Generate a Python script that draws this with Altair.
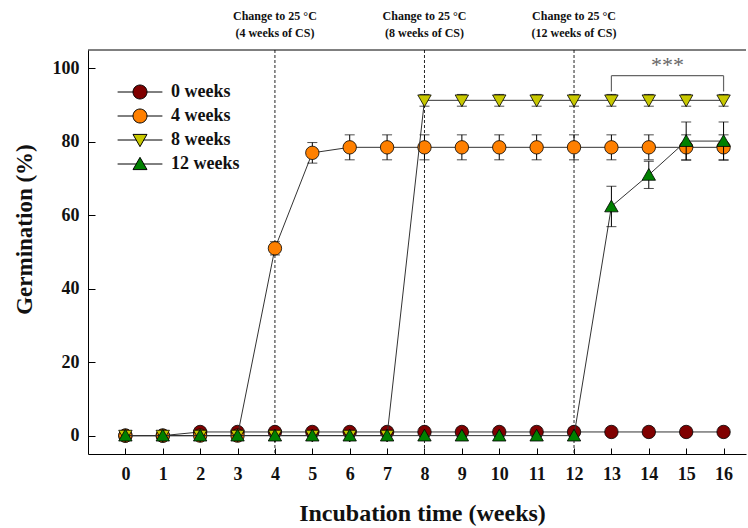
import altair as alt
import pandas as pd

# ---------------- data ----------------
weeks = list(range(17))
series_names = ["0 weeks", "4 weeks", "8 weeks", "12 weeks"]
series_colors = ["#800000", "#FF8000", "#C8C800", "#008000"]

germ_0 = [0, 0] + [1] * 15
err_0 = [0] * 17
germ_4 = [0, 0, 0, 0, 51, 77] + [78.5] * 11
err_4 = [0, 0, 0, 0, 1.8, 2.8] + [3.4] * 11
germ_8 = [0] * 8 + [91.3] * 9
err_8 = [0] * 8 + [1.6] * 9
germ_12 = [0] * 13 + [62.4, 71, 80.2, 80.2]
err_12 = [0] * 13 + [5.5, 3.7, 5.2, 5.2]

y_ticks = [0, 20, 40, 60, 80, 100]

change_weeks = [4, 8, 12]
change_line1 = ["Change to 25 \u00b0C", "Change to 25 \u00b0C", "Change to 25 \u00b0C"]
change_line2 = ["(4 weeks of CS)", "(8 weeks of CS)", "(12 weeks of CS)"]

bracket_x = [13, 16]
bracket_top = 98
bracket_bottom = 93.7
stars_x = [14.5]
stars_y = [100.8]
stars_text = ["***"]

# ---------------- styling ----------------
FONT = "Liberation Serif"
TXT = "#111111"
W, H = 658, 404

TRI_DOWN = "M-1,-0.8L1,-0.8L0,0.95Z"
TRI_UP = "M-1,0.8L1,0.8L0,-0.95Z"
point_shapes = ["circle", "circle", TRI_DOWN, TRI_UP]

LEG_CIRCLE = "M-3.2,0H-1M1,0H3.2M-1,0A1,1 0 1,0 1,0A1,1 0 1,0 -1,0Z"
LEG_DOWN = "M-3.2,0H-0.55M0.55,0H3.2M-1,-0.8L1,-0.8L0,0.95Z"
LEG_UP = "M-3.2,0H-0.55M0.55,0H3.2M-1,0.8L1,0.8L0,-0.95Z"
legend_shapes = [LEG_CIRCLE, LEG_CIRCLE, LEG_DOWN, LEG_UP]
legend_strokes = ["black", "black", "black", "black"]

all_vals = [germ_0, germ_4, germ_8, germ_12]
all_errs = [err_0, err_4, err_8, err_12]
rows = []
for name, vals, errs in zip(series_names, all_vals, all_errs):
    for w, v, e in zip(weeks, vals, errs):
        rows.append({"week": w, "series": name, "value": v, "err": e})
df = pd.DataFrame(rows)

xs = alt.Scale(domain=[-1, 16.6], nice=False, zero=False)
ys = alt.Scale(domain=[-5, 105], nice=False, zero=False)


def X(axis=None):
    return alt.X("week:Q", scale=xs, axis=axis)


def Y(field="value", axis=None):
    return alt.Y(f"{field}:Q", scale=ys, axis=axis)


x_axis_bottom = alt.Axis(
    orient="bottom", values=weeks, ticks=False, domain=True, domainColor="black",
    domainWidth=1, grid=False, labelFont=FONT, labelFontWeight="bold",
    labelFontSize=18, labelColor=TXT, labelPadding=11, labelFlush=False,
    title="Incubation time (weeks)", titleFont=FONT, titleFontSize=24,
    titleFontWeight="bold", titleColor=TXT, titlePadding=18, titleX=334,
)
x_axis_top = alt.Axis(
    orient="top", offset=-H, values=weeks, ticks=True, tickSize=6,
    tickColor="black", tickWidth=1, labels=False, domain=False, grid=False,
    title=None,
)
y_axis_left = alt.Axis(
    orient="left", values=y_ticks, ticks=False, domain=True, domainColor="black",
    domainWidth=1, grid=False, labelFont=FONT, labelFontWeight="bold",
    labelFontSize=18, labelColor=TXT, labelPadding=9, labelFlush=False,
    title="Germination (%)", titleFont=FONT, titleFontSize=23,
    titleFontWeight="bold", titleColor=TXT, titleX=-52, titleY=179,
)
y_axis_right = alt.Axis(
    orient="right", offset=-W, values=y_ticks, ticks=True, tickSize=7,
    tickColor="black", tickWidth=1, labels=False, domain=False, grid=False,
    title=None,
)

base = alt.Chart(df)
layers = []

# axis carrier layers (invisible)
layers.append(
    base.mark_point(opacity=0, size=1).encode(x=X(x_axis_bottom), y=Y(axis=y_axis_left))
)
layers.append(
    base.mark_point(opacity=0, size=1).encode(x=X(x_axis_top), y=Y(axis=y_axis_right))
)

# vertical dashed lines
layers.append(
    alt.Chart(pd.DataFrame({"week": change_weeks}))
    .mark_rule(color="#222222", strokeWidth=1, strokeDash=[3, 2])
    .encode(x=X())
)

for i, name in enumerate(series_names):
    sub = base.transform_filter(alt.datum.series == name)
    layers.append(
        sub.mark_line(color="#333333", strokeWidth=1).encode(x=X(), y=Y())
    )
    errs = sub.transform_filter("datum.err > 0").transform_calculate(
        lo="datum.value - datum.err", hi="datum.value + datum.err"
    )
    layers.append(
        errs.mark_rule(color="black", strokeWidth=1).encode(
            x=X(), y=Y("lo"), y2=alt.Y2("hi:Q")
        )
    )
    layers.append(
        errs.mark_tick(orient="horizontal", size=10, thickness=1, color="black").encode(
            x=X(), y=Y("lo")
        )
    )
    layers.append(
        errs.mark_tick(orient="horizontal", size=10, thickness=1, color="black").encode(
            x=X(), y=Y("hi")
        )
    )
    layers.append(
        sub.mark_point(
            filled=True, shape=point_shapes[i], size=180, fill=series_colors[i],
            stroke="black", strokeWidth=0.8, opacity=1,
        ).encode(x=X(), y=Y())
    )

# annotations above plot
ann = pd.DataFrame({"week": change_weeks, "l1": change_line1, "l2": change_line2})
layers.append(
    alt.Chart(ann).mark_text(font=FONT, fontWeight="bold", fontSize=12, color=TXT)
    .encode(x=X(), y=alt.value(-34), text="l1:N")
)
layers.append(
    alt.Chart(ann).mark_text(font=FONT, fontWeight="bold", fontSize=12, color=TXT)
    .encode(x=X(), y=alt.value(-17), text="l2:N")
)

# significance bracket
br = pd.DataFrame({"x1": [bracket_x[0]], "x2": [bracket_x[1]], "yt": [bracket_top]})
layers.append(
    alt.Chart(br).mark_rule(color="#666666", strokeWidth=1.2).encode(
        x=alt.X("x1:Q", scale=xs, axis=None), x2="x2:Q",
        y=alt.Y("yt:Q", scale=ys, axis=None),
    )
)
legs = pd.DataFrame({"x": bracket_x, "yb": [bracket_bottom] * 2, "yt": [bracket_top] * 2})
layers.append(
    alt.Chart(legs).mark_rule(color="#666666", strokeWidth=1.2).encode(
        x=alt.X("x:Q", scale=xs, axis=None),
        y=alt.Y("yb:Q", scale=ys, axis=None), y2="yt:Q",
    )
)
stars = pd.DataFrame({"x": stars_x, "y": stars_y, "t": stars_text})
layers.append(
    alt.Chart(stars).mark_text(font=FONT, fontSize=22, color="#666666", baseline="middle")
    .encode(x=alt.X("x:Q", scale=xs, axis=None), y=alt.Y("y:Q", scale=ys, axis=None), text="t:N")
)

# top border
layers.append(
    alt.Chart(pd.DataFrame({"a": [0]})).mark_rule(color="black", strokeWidth=1).encode(
        x=alt.value(0), x2=alt.value(W), y=alt.value(0)
    )
)

# legend (drives only the legend)
leg = alt.Legend(
    orient="none", legendX=43, legendY=33, title=None, symbolSize=196,
    symbolStrokeColor="black", symbolStrokeWidth=1, symbolOpacity=1,
    labelFont=FONT, labelFontWeight="bold", labelFontSize=18, labelColor=TXT,
    labelOffset=22, rowPadding=6, padding=0,
)
layers.append(
    base.transform_filter("datum.week < -100")
    .mark_point(filled=False, opacity=1, strokeWidth=1, size=196)
    .encode(
        fill=alt.Fill("series:N", scale=alt.Scale(domain=series_names, range=series_colors), legend=leg),
        stroke=alt.Stroke("series:N", scale=alt.Scale(domain=series_names, range=legend_strokes), legend=leg),
        shape=alt.Shape("series:N", scale=alt.Scale(domain=series_names, range=legend_shapes), legend=leg),
    )
)

chart = (
    alt.layer(*layers)
    .resolve_axis(x="independent", y="independent")
    .properties(
        width=W, height=H,
        autosize=alt.AutoSizeParams(type="none"),
        padding={"left": 88, "top": 50, "right": 2, "bottom": 74},
        background="white",
    )
    .configure_view(stroke=None)
)

chart.save("out.html", embed_options={"renderer": "svg", "actions": False})
